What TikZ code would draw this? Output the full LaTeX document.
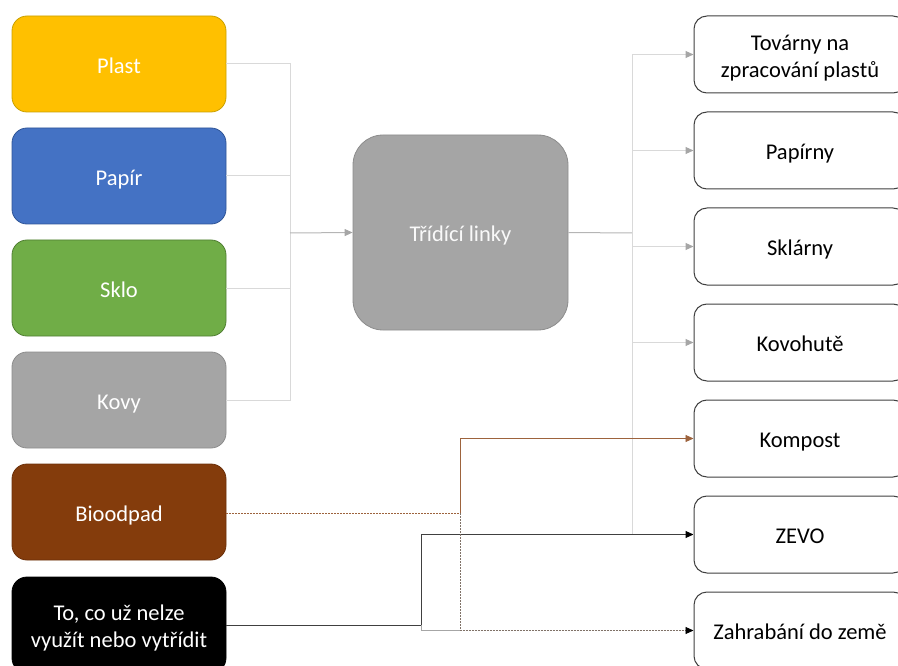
\documentclass[tikz,border=0pt]{standalone}
\usepackage{fontspec}
\setmainfont{Carlito}
\usetikzlibrary{arrows.meta}
\definecolor{plastc}{HTML}{FFC000}
\definecolor{plastb}{HTML}{C9A000}
\definecolor{papirc}{HTML}{4472C4}
\definecolor{papirb}{HTML}{2F5597}
\definecolor{skloc}{HTML}{70AD47}
\definecolor{sklob}{HTML}{507E32}
\definecolor{kovyc}{HTML}{A5A5A5}
\definecolor{kovyb}{HTML}{8C8C8C}
\definecolor{bioc}{HTML}{843C0C}
\definecolor{biob}{HTML}{6B300A}
\definecolor{lgline}{HTML}{D9D9D9}
\definecolor{lgarrow}{HTML}{A6A6A6}
\definecolor{darkline}{HTML}{404040}
\newcommand\lowtxt[1]{\raisebox{0pt}[\dimexpr\height+8pt\relax][\depth]{\begin{tabular}{@{}c@{}}#1\end{tabular}}}
\tikzset{
  lowtext/.style={font=\fontsize{22.5}{27}\selectfont},
  srcbox/.style={rectangle, rounded corners=15pt, minimum width=214pt, minimum height=96pt, line width=0.8pt, text=white, lowtext, inner sep=0pt},
  dstbox/.style={rectangle, rounded corners=13pt, draw=darkline, fill=white, minimum width=212pt, minimum height=77pt, line width=1pt, text=black, lowtext, inner sep=0pt},
  lgconn/.style={draw=lgline, line width=1pt},
  lgarr/.style={draw=lgline, line width=1pt, -{Triangle[width=7pt,length=8pt,color=lgarrow,fill=lgarrow]}},
  bioconn/.style={draw=bioc!80!white, line width=0.9pt},
  biodash/.style={draw=bioc!80!white, line width=0.9pt, dash pattern=on 2pt off 1pt},
  blkconn/.style={draw=darkline, line width=1pt},
}
\begin{document}
\begin{tikzpicture}[x=1pt,y=-1pt]
\useasboundingbox (0,0) rectangle (898,666);
% source boxes
\node[srcbox, fill=plastc, draw=plastb] (plast) at (119,64) {\lowtxt{Plast}};
\node[srcbox, fill=papirc, draw=papirb] (papir) at (119,176) {\lowtxt{Papír}};
\node[srcbox, fill=skloc, draw=sklob] (sklo) at (119,288) {\lowtxt{Sklo}};
\node[srcbox, fill=kovyc, draw=kovyb] (kovy) at (119,400) {\lowtxt{Kovy}};
\node[srcbox, fill=bioc, draw=biob] (bio) at (119,512) {\lowtxt{Bioodpad}};
\node[srcbox, fill=black, draw=black] (zbytek) at (119,625) {\lowtxt{To, co už nelze\\využít nebo vytřídit}};
% center
\node[rectangle, rounded corners=30pt, fill=kovyc, draw=kovyb, line width=0.8pt, minimum width=215pt, minimum height=195pt, text=white!95!gray, lowtext, inner sep=0pt] (linky) at (460.5,232.5) {\lowtxt{Třídící linky}};
% destination boxes
\node[dstbox] (tovarny) at (800,54.5) {\lowtxt{Továrny na\\zpracování plastů}};
\node[dstbox] (papirny) at (800,150.5) {\lowtxt{Papírny}};
\node[dstbox] (sklarny) at (800,246.5) {\lowtxt{Sklárny}};
\node[dstbox] (kovohute) at (800,342.5) {\lowtxt{Kovohutě}};
\node[dstbox] (kompost) at (800,438.5) {\lowtxt{Kompost}};
\node[dstbox] (zevo) at (800,534.5) {\lowtxt{ZEVO}};
\node[dstbox] (zahrabani) at (800,630.5) {\lowtxt{Zahrabání do země}};
% coordinates
\coordinate (busL) at (290,233);
\coordinate (busR) at (632,233);
\coordinate (bioJ) at (460,513);
\coordinate (zbJ) at (421,625);
% left bus
\draw[lgconn] (plast.east) -| (busL);
\draw[lgconn] (papir.east) -| (busL);
\draw[lgconn] (sklo.east) -| (busL);
\draw[lgconn] (kovy.east) -| (busL);
\draw[lgarr, draw=lgarrow!70!lgline] (busL) -- (linky.west);
% right bus
\draw[lgconn, draw=lgarrow!70!lgline] (linky.east) -- (busR);
\draw[lgarr] (busR) |- (tovarny.west);
\draw[lgarr] (busR) |- (papirny.west);
\draw[lgarr] (busR) |- (sklarny.west);
\draw[lgarr] (busR) |- (kovohute.west);
\draw[lgconn] (busR) |- (zevo.west);
% bioodpad
\draw[biodash] (bio.east |- bioJ) -- (bioJ);
\draw[bioconn, -{Triangle[width=7pt,length=8pt]}] (bioJ) |- (kompost.west);
% zbytek
\draw[blkconn] (zbytek.east) -- (zbJ);
\draw[blkconn, -{Triangle[width=7pt,length=8pt,color=black,fill=black]}] (zbJ) |- (zevo.west);
\draw[draw=lgarrow, line width=1pt] (zbJ) |- (bioJ |- zahrabani.west);
\draw[biodash, draw=gray!80!bioc, -{Triangle[width=7pt,length=8pt,color=black,fill=black]}] (bioJ) |- (zahrabani.west);
\end{tikzpicture}
\end{document}
